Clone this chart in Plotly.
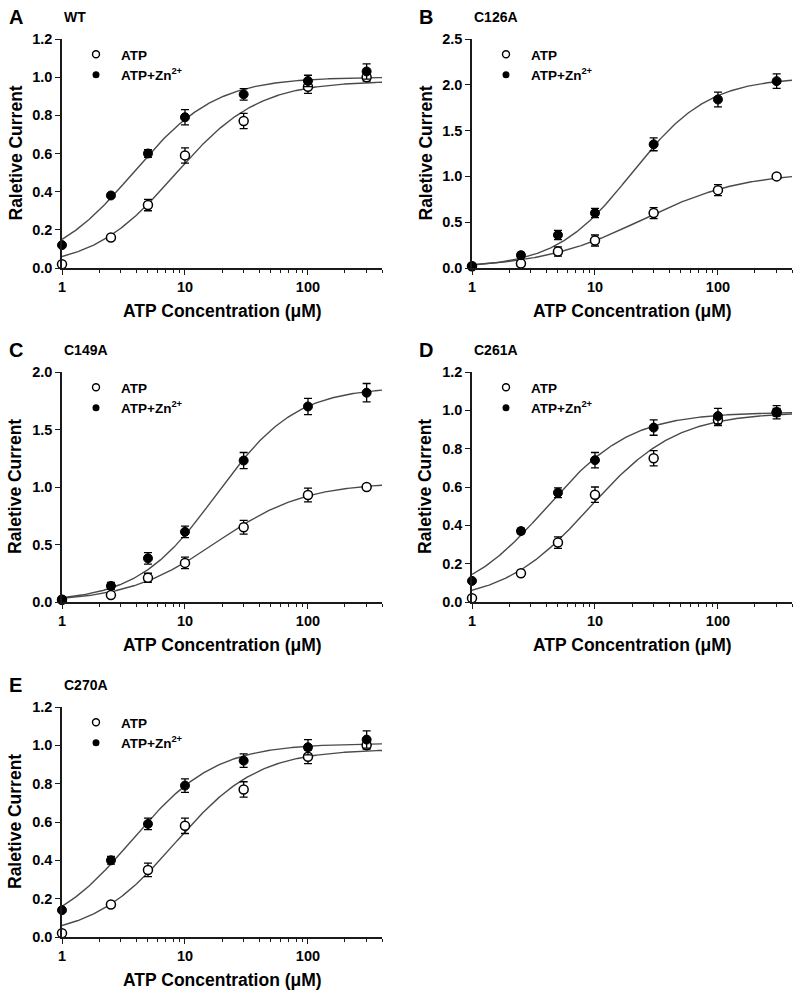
import numpy as np
import plotly.graph_objects as go

# ---------------- data ----------------
conc = [1, 2.5, 5, 10, 30, 100, 300]

panel_letters = ["A", "B", "C", "D", "E"]
panel_names = ["WT", "C126A", "C149A", "C261A", "C270A"]

# ATP alone (open circles)
atp_wt = [0.02, 0.16, 0.33, 0.59, 0.77, 0.95, 1.00]
atp_wt_err = [0.0, 0.015, 0.03, 0.04, 0.04, 0.035, 0.02]
atp_c126a = [0.02, 0.05, 0.18, 0.30, 0.60, 0.85, 1.00]
atp_c126a_err = [0.0, 0.02, 0.05, 0.06, 0.06, 0.06, 0.02]
atp_c149a = [0.02, 0.06, 0.21, 0.34, 0.65, 0.93, 1.00]
atp_c149a_err = [0.0, 0.02, 0.04, 0.05, 0.06, 0.06, 0.01]
atp_c261a = [0.02, 0.15, 0.31, 0.56, 0.75, 0.95, 0.99]
atp_c261a_err = [0.0, 0.015, 0.03, 0.04, 0.04, 0.03, 0.02]
atp_c270a = [0.02, 0.17, 0.35, 0.58, 0.77, 0.94, 1.00]
atp_c270a_err = [0.0, 0.015, 0.035, 0.04, 0.04, 0.035, 0.02]

# ATP + Zn2+ (filled circles)
zn_wt = [0.12, 0.38, 0.60, 0.79, 0.91, 0.98, 1.03]
zn_wt_err = [0.01, 0.01, 0.02, 0.04, 0.03, 0.03, 0.04]
zn_c126a = [0.02, 0.14, 0.36, 0.60, 1.35, 1.84, 2.04]
zn_c126a_err = [0.0, 0.03, 0.05, 0.05, 0.07, 0.08, 0.08]
zn_c149a = [0.02, 0.14, 0.38, 0.61, 1.23, 1.70, 1.82]
zn_c149a_err = [0.0, 0.03, 0.05, 0.05, 0.07, 0.07, 0.08]
zn_c261a = [0.11, 0.37, 0.57, 0.74, 0.91, 0.97, 0.99]
zn_c261a_err = [0.01, 0.015, 0.025, 0.04, 0.04, 0.04, 0.035]
zn_c270a = [0.14, 0.40, 0.59, 0.79, 0.92, 0.99, 1.03]
zn_c270a_err = [0.01, 0.02, 0.03, 0.035, 0.035, 0.04, 0.045]

# Hill-fit parameters: [EC50, Hill n, top]
fit_atp = [[8.3, 1.29, 0.98], [24.0, 1.05, 1.05], [18.0, 1.20, 1.04],
           [9.1, 1.23, 0.99], [8.3, 1.29, 0.98]]
fit_zn = [[3.8, 1.30, 1.00], [20.0, 1.40, 2.08], [18.0, 1.35, 1.87],
          [4.05, 1.27, 0.99], [3.7, 1.28, 1.01]]

y_max = [1.2, 2.5, 2.0, 1.2, 1.2]
y_dtick = [0.2, 0.5, 0.5, 0.2, 0.2]

atp_all = [atp_wt, atp_c126a, atp_c149a, atp_c261a, atp_c270a]
atp_err_all = [atp_wt_err, atp_c126a_err, atp_c149a_err, atp_c261a_err, atp_c270a_err]
zn_all = [zn_wt, zn_c126a, zn_c149a, zn_c261a, zn_c270a]
zn_err_all = [zn_wt_err, zn_c126a_err, zn_c149a_err, zn_c261a_err, zn_c270a_err]

x_major = [1, 10, 100]
x_minor = [2, 3, 4, 5, 6, 7, 8, 9, 20, 30, 40, 50, 60, 70, 80, 90, 200, 300, 400]

# ---------------- layout geometry (pixels in the 800x998 window) ----------------
W, H = 800, 998
# (left, right, top, bottom) of each plot area in window pixels
boxes = [(62, 382, 39, 268), (472, 792, 39, 268),
         (62, 382, 372, 602), (472, 792, 372, 602),
         (62, 382, 707, 937)]

FONT = "Liberation Sans, Arial, sans-serif"
CURVE = "#4a4a4a"
AX = "#1a1a1a"

def px(x):
    return x / W

def py(y):
    return 1 - y / H

fig = go.Figure()
layout = dict(template="none", width=W, height=H,
              margin=dict(l=0, r=0, t=0, b=0, autoexpand=False),
              paper_bgcolor="white", plot_bgcolor="white",
              font=dict(family=FONT, color="black"), showlegend=True)
annotations = []

xfit = np.logspace(0, np.log10(400), 300)

def hill(x, p):
    ec50, n, top = p
    return top / (1 + (ec50 / x) ** n)

for i in range(5):
    l, r, t, b = boxes[i]
    k = "" if i == 0 else str(i + 1)
    xa, ya = "x" + k, "y" + k
    leg = "legend" + k

    layout["xaxis" + k] = dict(
        domain=[px(l), px(r)], anchor=ya, type="log", automargin=False,
        range=[0, np.log10(400)], tickmode="array", tickvals=x_major,
        ticktext=[str(v) for v in x_major],
        ticks="outside", ticklen=5, tickwidth=1.3, tickcolor=AX,
        showline=True, linecolor=AX, linewidth=1.5, showgrid=False, zeroline=False,
        tickfont=dict(size=14.5, family=FONT, weight="bold"),
        minor=dict(tickmode="array", tickvals=x_minor, ticks="outside",
                   ticklen=3, tickwidth=1.1, tickcolor=AX, showgrid=False),
    )
    layout["yaxis" + k] = dict(
        domain=[py(b), py(t)], anchor=xa, range=[0, y_max[i]], automargin=False,
        tickmode="linear", tick0=0, dtick=y_dtick[i], tickformat=".1f",
        ticks="outside", ticklen=5, tickwidth=1.3, tickcolor=AX,
        showline=True, linecolor=AX, linewidth=1.5, showgrid=False, zeroline=False,
        tickfont=dict(size=14.5, family=FONT, weight="bold"),
    )

    # fitted curves
    fig.add_trace(go.Scatter(x=xfit, y=hill(xfit, fit_atp[i]), mode="lines",
                             line=dict(color=CURVE, width=1.4), xaxis=xa, yaxis=ya,
                             showlegend=False, hoverinfo="skip"))
    fig.add_trace(go.Scatter(x=xfit, y=hill(xfit, fit_zn[i]), mode="lines",
                             line=dict(color=CURVE, width=1.4), xaxis=xa, yaxis=ya,
                             showlegend=False, hoverinfo="skip"))
    # data points
    fig.add_trace(go.Scatter(x=conc, y=atp_all[i], mode="markers",
                             error_y=dict(type="data", array=atp_err_all[i], color="black",
                                          thickness=1.3, width=4),
                             marker=dict(symbol="circle", size=9, color="white",
                                         line=dict(color="black", width=1.5)),
                             xaxis=xa, yaxis=ya, showlegend=False, cliponaxis=False))
    fig.add_trace(go.Scatter(x=conc, y=zn_all[i], mode="markers",
                             error_y=dict(type="data", array=zn_err_all[i], color="black",
                                          thickness=1.3, width=4),
                             marker=dict(symbol="circle", size=9, color="black",
                                         line=dict(color="black", width=1)),
                             xaxis=xa, yaxis=ya, showlegend=False, cliponaxis=False))
    # legend entries
    fig.add_trace(go.Scatter(x=[None], y=[None], mode="markers", name="ATP",
                             marker=dict(symbol="circle", size=7, color="white",
                                         line=dict(color="black", width=1.4)),
                             xaxis=xa, yaxis=ya, legend=leg))
    fig.add_trace(go.Scatter(x=[None], y=[None], mode="markers",
                             name="ATP+Zn<sup>2+</sup>",
                             marker=dict(symbol="circle", size=7, color="black"),
                             xaxis=xa, yaxis=ya, legend=leg))
    layout[leg] = dict(x=px(l + 9), y=py(t), xanchor="left", yanchor="top",
                       bgcolor="rgba(0,0,0,0)", borderwidth=0, itemwidth=40,
                       tracegroupgap=0,
                       font=dict(size=13.5, family=FONT, weight="bold"))

    # panel letter and title
    annotations.append(dict(text=panel_letters[i], x=px(l - 55), y=py(t - 22),
                            xref="paper", yref="paper", xanchor="left", yanchor="middle",
                            showarrow=False, font=dict(size=20, family=FONT, weight="bold")))
    annotations.append(dict(text=panel_names[i], x=px(l), y=py(t - 22),
                            xref="paper", yref="paper", xanchor="left", yanchor="middle",
                            showarrow=False, font=dict(size=14, family=FONT, weight="bold")))
    # axis titles
    annotations.append(dict(text="ATP Concentration (\u03bcM)", x=px((l + r) / 2), y=py(b + 43),
                            xref="paper", yref="paper", xanchor="center", yanchor="middle",
                            showarrow=False, font=dict(size=17.5, family=FONT, weight="bold")))
    annotations.append(dict(text="Raletive Current", x=px(l - 47), y=py((t + b) / 2),
                            xref="paper", yref="paper", xanchor="center", yanchor="middle",
                            textangle=-90, showarrow=False,
                            font=dict(size=17.5, family=FONT, weight="bold")))

layout["annotations"] = annotations
fig.update_layout(**layout)
# the page's default 8px body margin would shift the figure; remove it
fig.write_html("out.html", config={"displayModeBar": False},
               post_script="document.body.style.margin='0px';")
